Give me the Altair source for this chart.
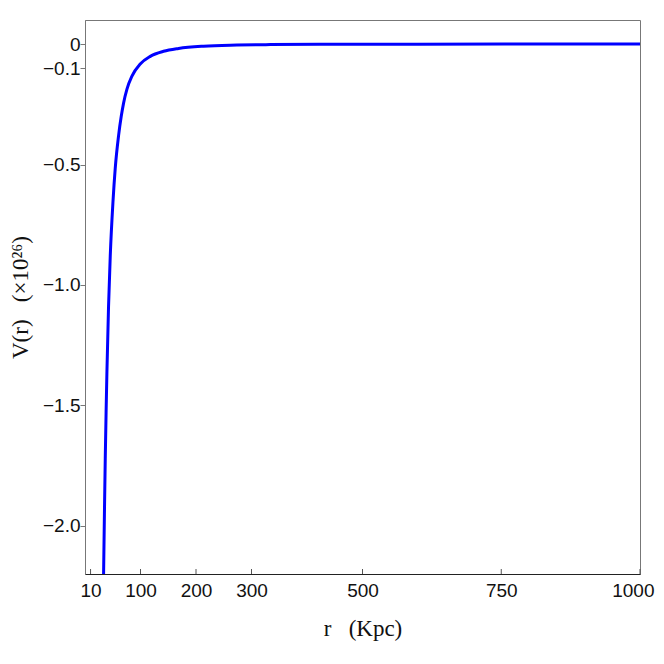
import altair as alt
import pandas as pd

# curve values
r_vals = [33.0, 35.0, 36.5, 38.0, 39.5, 42.4, 45.5, 50.4, 54.5, 60.5, 65.3, 69.5,
          75.6, 84.6, 99.5, 117.6, 141.5, 168.6, 213.6, 273.8, 333.8, 436.0,
          600.0, 800.0, 1000.0]
v_vals = [-2.28, -1.95, -1.72, -1.53, -1.36, -1.09, -0.88, -0.655, -0.515, -0.38,
          -0.30, -0.245, -0.187, -0.133, -0.083, -0.051, -0.030, -0.018, -0.0085,
          -0.004, -0.0021, -0.0009, -0.0003, -0.0001, 0.0]

x_ticks = [10, 100, 200, 300, 500, 750, 1000]
y_ticks = [0, -0.1, -0.5, -1.0, -1.5, -2.0]

W, H = 555, 554
NB = "\u00a0"

df = pd.DataFrame({"r": r_vals, "V": v_vals})
tick_df = pd.DataFrame({"t": x_ticks})

xscale = alt.Scale(domain=[0, 1000], nice=False, zero=False)
yscale = alt.Scale(domain=[-2.2, 0.1], nice=False, zero=False)

line = alt.Chart(df).mark_line(color="#0000ff", strokeWidth=3, clip=True,
                               interpolate="monotone").encode(
    x=alt.X("r:Q", scale=xscale,
            axis=alt.Axis(values=x_ticks, ticks=False, grid=False, format="d",
                          title="r" + NB * 3 + "(Kpc)", labelPadding=7,
                          domainColor="#222222", titlePadding=17,
                          labelFlush=True, labelFlushOffset=14)),
    y=alt.Y("V:Q", scale=yscale,
            axis=alt.Axis(values=y_ticks, grid=False, tickSize=5,
                          tickColor="#777777", domainColor="#777777",
                          labelPadding=0, title="V(r)" + NB * 3 + "(×10²⁶)",
                          titlePadding=10,
                          labelExpr="datum.value == 0 ? '0' : replace(format(datum.value, '.1f'), '-', '\u2212')")),
)

xt = alt.Chart(tick_df).mark_rule(color="#555555", strokeWidth=1).encode(
    x=alt.X("t:Q", scale=xscale),
    y=alt.value(H - 5),
    y2=alt.value(H),
)

chart = alt.layer(line, xt).properties(
    width=W, height=H,
    autosize=alt.AutoSizeParams(type="none"),
    padding={"left": 77, "top": 12, "right": 16, "bottom": 70},
).configure_view(
    stroke="#777777", strokeWidth=1
).configure_axis(
    labelFont="Liberation Sans", labelFontSize=19, labelColor="#111111",
    titleFont="Liberation Serif", titleFontSize=23, titleFontWeight="normal",
    titleColor="#111111",
)

chart.save("out.html", embed_options={"renderer": "svg", "actions": False})
